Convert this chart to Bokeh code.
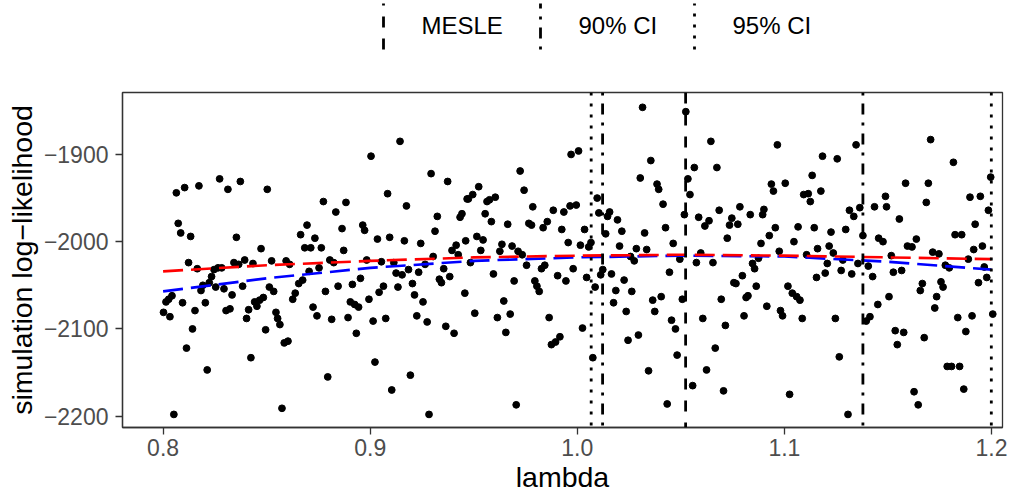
from bokeh.plotting import figure
from bokeh.models import Range1d, Span, FixedTicker
from bokeh.layouts import column
from bokeh.embed import file_html
from bokeh.resources import INLINE
from bokeh.core.properties import value

FONT = "Liberation Sans"

# ---------------- data ----------------
lam = [
    0.8064, 0.8104, 0.8173, 0.8273, 0.8313, 0.8373, 0.8073, 0.8085, 0.8133, 0.8354,
    0.8123, 0.8165, 0.8265, 0.8246, 0.8283, 0.8234, 0.8223, 0.8192, 0.8183, 0.8254,
    0.8294, 0.8342, 0.8365, 0.8394, 0.8434, 0.8384, 0.8333, 0.8043, 0.8027, 0.8014,
    0.8002, 0.8033, 0.8094, 0.8154, 0.8204, 0.8304, 0.8323, 0.8413, 0.8403, 0.8442,
    0.8453, 0.8142, 0.8113, 0.8213, 0.8424, 0.8052,
    0.8503, 0.8473, 0.8524, 0.8594, 0.8611, 0.8513, 0.8534, 0.8484, 0.8466, 0.8545,
    0.8553, 0.8564, 0.8495, 0.8585, 0.8603, 0.8574, 0.8774, 0.8883, 0.8834, 0.8695,
    0.8664, 0.8733, 0.8684, 0.8713, 0.8764, 0.8864, 0.8872, 0.8805, 0.8824, 0.8753,
    0.8705, 0.8674, 0.8655, 0.8638, 0.8626, 0.8784, 0.8845, 0.8914, 0.8953, 0.8724,
    0.8743, 0.8814, 0.8893, 0.8904, 0.8925, 0.8944, 0.8933, 0.8795,
    0.8964, 0.8973, 0.9144, 0.9004, 0.9084, 0.9175, 0.9294, 0.9374, 0.9468, 0.9324,
    0.9443, 0.9434, 0.9313, 0.9035, 0.9094, 0.9165, 0.9244, 0.9415, 0.9395, 0.9461,
    0.9425, 0.8983, 0.9054, 0.9114, 0.9304, 0.9265, 0.9185, 0.9234, 0.9125, 0.9154,
    0.9355, 0.9384, 0.9334, 0.9344, 0.9204, 0.9064, 0.9134, 0.9043, 0.8994, 0.9214,
    0.9255, 0.9457, 0.9014, 0.9075, 0.9225, 0.9275, 0.9365, 0.9405, 0.9023, 0.9104,
    0.9194, 0.9284,
    0.9484, 0.9970, 0.9724, 0.9524, 0.9495, 0.9474, 0.9564, 0.9576, 0.9604, 0.9743,
    0.9785, 0.9884, 0.9935, 0.9965, 0.9555, 0.9585, 0.9664, 0.9766, 0.9779, 0.9855,
    0.9835, 0.9925, 0.9515, 0.9545, 0.9956, 0.9534, 0.9636, 0.9626, 0.9685, 0.9714,
    0.9734, 0.9755, 0.9843, 0.9827, 0.9595, 0.9695, 0.9795, 0.9805, 0.9816, 0.9905,
    0.9945, 0.9980, 0.9645, 0.9505, 0.9614, 0.9676, 0.9864, 0.9655, 0.9875, 0.9895,
    0.9916, 0.9705,
    1.0006, 0.9995, 1.0315, 1.0355, 1.0304, 1.0385, 1.0393, 1.0414, 1.0096, 1.0104,
    1.0146, 1.0156, 1.0194, 1.0035, 1.0215, 1.0325, 1.0426, 1.0137, 1.0066, 1.0055,
    1.0015, 1.0204, 1.0285, 1.0335, 1.0463, 1.0257, 1.0275, 1.0123, 1.0113, 1.0165,
    1.0045, 1.0086, 1.0226, 1.0445, 1.0186, 1.0263, 1.0175, 1.0364, 1.0405, 1.0236,
    1.0374, 1.0025, 1.0455, 1.0474, 1.0245, 1.0295, 1.0482, 1.0075, 1.0344, 1.0434,
    1.0495, 1.0507, 1.0524, 1.0534, 1.0544, 1.0517, 1.0565, 1.0645, 1.0674, 1.0586,
    1.0636, 1.0616, 1.0685, 1.0596, 1.0575, 1.0655, 1.0746, 1.0735, 1.0775, 1.0785,
    1.0835, 1.0724, 1.0901, 1.0895, 1.0937, 1.0947, 1.0966, 1.0956, 1.0927, 1.0887,
    1.0975, 1.0875, 1.0846, 1.0856, 1.0797, 1.0756, 1.0766, 1.0864, 1.0824, 1.0815,
    1.0695, 1.0915, 1.0805, 1.0715, 1.0606, 1.0981, 1.0991, 1.0666, 1.0624, 1.0557,
    1.0706,
    1.1004, 1.1184, 1.1255, 1.1346, 1.1134, 1.1093, 1.1115, 1.1125, 1.1176, 1.1314,
    1.1335, 1.1364, 1.1435, 1.1488, 1.1493, 1.1066, 1.1144, 1.1225, 1.1296, 1.1046,
    1.1379, 1.1455, 1.1476, 1.1160, 1.1216, 1.1236, 1.1107, 1.1207, 1.1282, 1.1274,
    1.1155, 1.1197, 1.1325, 1.1355, 1.1405, 1.1426, 1.1017, 1.1038, 1.1059, 1.1075,
    1.1451, 1.1086, 1.1246, 1.1395, 1.1413, 1.1265, 1.1025, 1.1307,
    1.1505, 1.1706, 1.1816, 1.1585, 1.1695, 1.1685, 1.1896, 1.1946, 1.1996, 1.1985,
    1.1555, 1.1921, 1.1824, 1.1856, 1.1637, 1.1594, 1.1616, 1.1956, 1.1914, 1.1516,
    1.1716, 1.1746, 1.1777, 1.1796, 1.1888, 1.1965, 1.1526, 1.1566, 1.1977, 1.1937,
    1.1666, 1.1656, 1.1756, 1.1766, 1.1735, 1.1726, 1.1837, 1.1906, 1.2006, 1.1876,
    1.1535, 1.1576, 1.1545, 1.1675, 1.1786, 1.1807, 1.1846, 1.1866, 1.1626, 1.1646,
]
loglik = [
    -1944, -1938, -1936, -1928, -1940, -1931, -1979, -1990, -1994, -1995,
    -2024, -2031, -2030, -2032, -2030, -2040, -2047, -2050, -2056, -2052,
    -2054, -2024, -2026, -2021, -2025, -2051, -2061, -2062, -2066, -2069,
    -2081, -2086, -2070, -2079, -2070, -2079, -2077, -2078, -2088, -2069,
    -2074, -2100, -2122, -2147, -2133, -2198,
    -1940, -2008, -2022, -2022, -2026, -2052, -2057, -2064, -2067, -2081,
    -2088, -2095, -2101, -2116, -2114, -2191, -1954, -1955, -1966, -1981,
    -1992, -1996, -2007, -2007, -2007, -1985, -2010, -2021, -2024, -2030,
    -2034, -2044, -2048, -2059, -2066, -2057, -2051, -2049, -2042, -2075,
    -2085, -2089, -2087, -2069, -2072, -2075, -2105, -2155,
    -1981, -1987, -1885, -1902, -1945, -1959, -1922, -1931, -1951, -1971,
    -1968, -1972, -1988, -1997, -1995, -1999, -2002, -2004, -2010, -1999,
    -2015, -2021, -2023, -2024, -2017, -2026, -2032, -2035, -2036, -2038,
    -2031, -2040, -2043, -2047, -2048, -2051, -2052, -2058, -2066, -2061,
    -2069, -2059, -2091, -2088, -2085, -2092, -2097, -2105, -2138, -2170,
    -2153, -2198,
    -2024, -1900, -1919, -1937, -1946, -1951, -1954, -1952, -1949, -1941,
    -1960, -1964, -1966, -1959, -1968, -1977, -1980, -1979, -1981, -1977,
    -1984, -1986, -1994, -1998, -2001, -2010, -2003, -2011, -2005, -2011,
    -2015, -2027, -2027, -2031, -2037, -2045, -2045, -2051, -2057, -2039,
    -2045, -2031, -2068, -2082, -2087, -2083, -2087, -2104, -2118, -2115,
    -2109, -2187,
    -1896, -1958, -1846, -1907, -1927, -1934, -1940, -1957, -1950, -1967,
    -1971, -1966, -1975, -1986, -1988, -1990, -1984, -1991, -2001, -2006,
    -2004, -2005, -2008, -2009, -2002, -2017, -2022, -2032, -2038, -2037,
    -2041, -2052, -2044, -2035, -2056, -2057, -2070, -2067, -2063, -2080,
    -2080, -2099, -2090, -2100, -2113, -2107, -2130, -2133, -2148, -2186,
    -2020, -2066, -1851, -1928, -1946, -1969, -1915, -1885, -1915, -1972,
    -1976, -1982, -1964, -2013, -2024, -2024, -1973, -1981, -1980, -1960,
    -1969, -1996, -1963, -1969, -1934, -1942, -1889, -1984, -1993, -2002,
    -2011, -2019, -2025, -2031, -2039, -2047, -2048, -2051, -2062, -2064,
    -2066, -2074, -2085, -2096, -2088, -2079, -2085, -2122, -2147, -2165,
    -2171,
    -1933, -1902, -1905, -1889, -1924, -1946, -1945, -1954, -1942, -1964,
    -1971, -1961, -1960, -1948, -1960, -1983, -1984, -1989, -1986, -2000,
    -1993, -1996, -2000, -2008, -2005, -2013, -2015, -2025, -2021, -2033,
    -2041, -2036, -2037, -2025, -2028, -2040, -2051, -2059, -2063, -2067,
    -2072, -2088, -2088, -2091, -2086, -2132, -2175, -2198,
    -2063, -1883, -1909, -1933, -1933, -1955, -1949, -1948, -1926, -1964,
    -1974, -1980, -1992, -1992, -1997, -2005, -2006, -2005, -2009, -2016,
    -2012, -2014, -2027, -2030, -2020, -2029, -2035, -2033, -2041, -2047,
    -2048, -2056, -2046, -2052, -2063, -2076, -2087, -2085, -2083, -2103,
    -2102, -2104, -2118, -2110, -2143, -2143, -2143, -2169, -2172, -2187,
]

# smooth curves
curve_lam = [0.80, 0.85, 0.90, 0.95, 1.00, 1.05, 1.10, 1.15, 1.20]
red_ll = [-2034, -2027, -2022, -2018, -2016, -2015, -2016, -2018, -2020]
blue_ll = [-2057, -2042, -2030, -2022, -2018, -2016, -2017, -2023, -2032]

# reference lines
mesle = 1.0523
ci90 = [1.0122, 1.1379]
ci95 = [1.0067, 1.1999]
legend_labels = ["MESLE", "90% CI", "95% CI"]

x_ticks = [0.8, 0.9, 1.0, 1.1, 1.2]
x_tick_labels = ["0.8", "0.9", "1.0", "1.1", "1.2"]
y_ticks = [-2200, -2100, -2000, -1900]
y_tick_labels = ["\u22122200", "\u22122100", "\u22122000", "\u22121900"]

# ---------------- styles ----------------
W = 1013
LEG_H = 68
MAIN_H = 427
B_LEFT = 122
B_RIGHT = 11
dash_mesle = "11 11"
dash_90 = "3 8 11 8"
dash_95 = "3 8"
VW = 2.8

# ---------------- legend figure (x in page pixels over the panel) ----------------
leg = figure(width=W, height=LEG_H, x_range=Range1d(123, 1003), y_range=Range1d(LEG_H, 0),
             output_backend="svg", toolbar_location=None,
             min_border_left=B_LEFT, min_border_right=B_RIGHT,
             min_border_top=0, min_border_bottom=0,
             x_axis_type=None, y_axis_type=None)
leg.grid.visible = False
leg.outline_line_color = None
leg.background_fill_color = "white"
leg.border_fill_color = "white"

key_x = [384, 541, 695]
text_x = [422, 579, 733]
dashes = [dash_mesle, dash_90, dash_95]
for kx, tx, d, lab in zip(key_x, text_x, dashes, legend_labels):
    leg.segment(x0=[kx], y0=[49], x1=[kx], y1=[3], line_color="black",
                line_width=VW, line_dash=d)
    leg.text(x=[tx], y=[25], text=[lab], text_font=value(FONT),
             text_font_size="24px", text_baseline="middle", text_align="left",
             text_color="black")

# ---------------- main figure ----------------
p = figure(width=W, height=MAIN_H,
           x_range=Range1d(0.7804, 1.2053), y_range=Range1d(-2213, -1829),
           output_backend="svg", toolbar_location=None,
           min_border_left=B_LEFT, min_border_right=B_RIGHT, min_border_top=24,
           min_border_bottom=60,
           x_axis_label="lambda", y_axis_label="simulation log\u2212likelihood")
p.grid.visible = False
p.background_fill_color = "white"
p.border_fill_color = "white"
p.outline_line_color = "#333333"
p.outline_line_width = 1.3
p.outline_line_alpha = 1.0

p.scatter(lam, loglik, size=6.8, color="black", marker="circle")

p.line(curve_lam, blue_ll, line_color="#0000FF", line_width=2.6, line_dash="20 8")
p.line(curve_lam, red_ll, line_color="#FF0000", line_width=2.6, line_dash="20 8")

p.add_layout(Span(location=mesle, dimension="height", line_color="black",
                  line_width=VW, line_dash=dash_mesle))
for c in ci90:
    p.add_layout(Span(location=c, dimension="height", line_color="black",
                      line_width=VW, line_dash=dash_90))
for c in ci95:
    p.add_layout(Span(location=c, dimension="height", line_color="black",
                      line_width=VW, line_dash=dash_95))

p.xaxis.ticker = FixedTicker(ticks=x_ticks)
p.xaxis.major_label_overrides = dict(zip(x_ticks, x_tick_labels))
p.yaxis.ticker = FixedTicker(ticks=y_ticks)
p.yaxis.major_label_overrides = dict(zip(y_ticks, y_tick_labels))

for ax in (p.xaxis, p.yaxis):
    ax.major_label_text_font = FONT
    ax.major_label_text_font_size = "23px"
    ax.major_label_text_color = "#4D4D4D"
    ax.axis_label_text_font = FONT
    ax.axis_label_text_font_size = "28.5px"
    ax.axis_label_text_font_style = "normal"
    ax.axis_label_text_color = "black"
    ax.axis_line_color = "#333333"
    ax.axis_line_width = 1.3
    ax.major_tick_line_color = "#333333"
    ax.major_tick_line_width = 1.3
    ax.major_tick_out = 7
    ax.major_tick_in = 0
    ax.minor_tick_line_color = None

p.xaxis.major_label_standoff = 4
p.xaxis.axis_label_standoff = 2
p.yaxis.major_label_standoff = 7
p.yaxis.axis_label_standoff = 3

layout = column(leg, p)
open("out.html", "w").write(file_html(layout, INLINE))
